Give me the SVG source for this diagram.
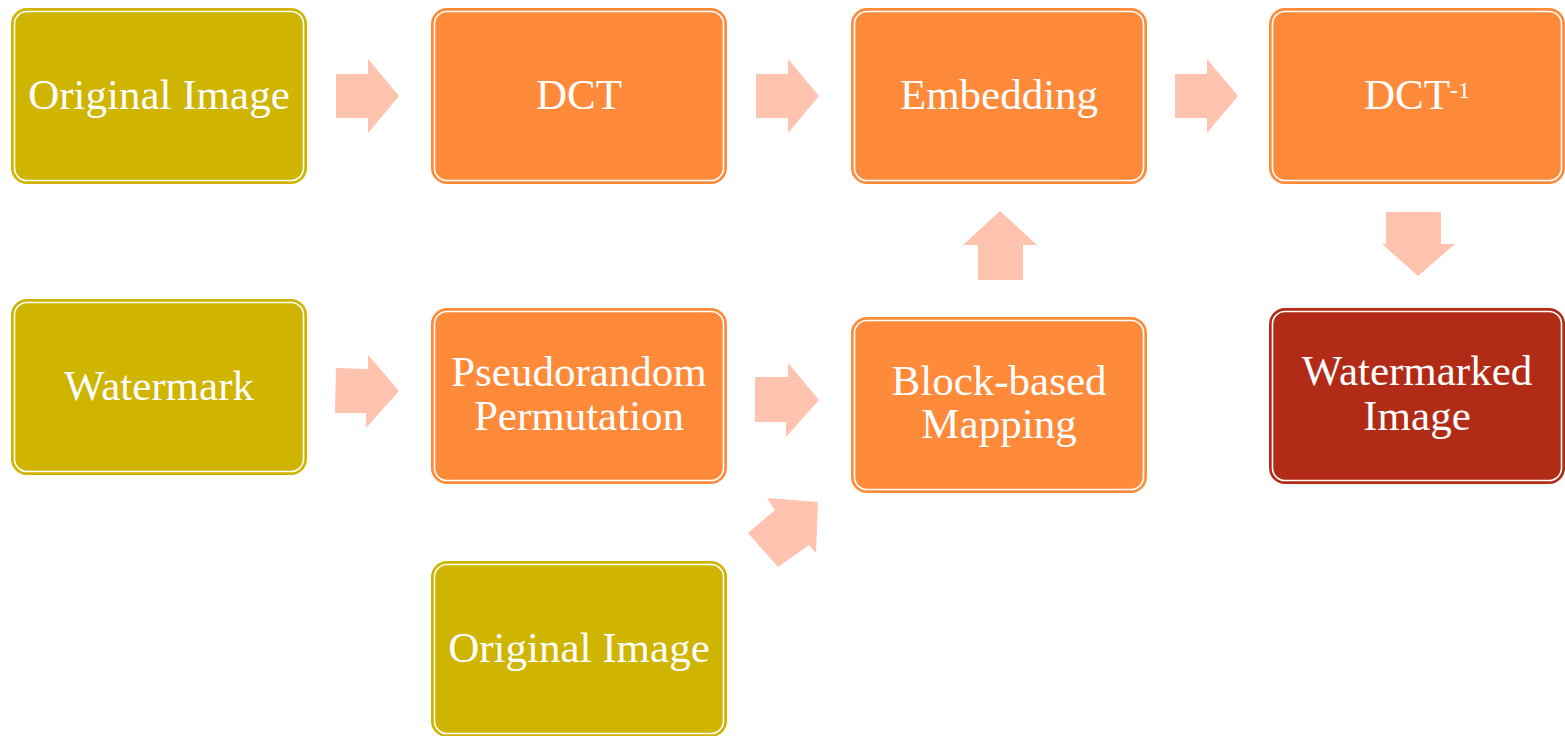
<svg xmlns="http://www.w3.org/2000/svg" width="1565" height="736" viewBox="0 0 1565 736">
  <style>
    .frame { stroke-width: 2; }
    .ring { fill: none; stroke: #ffffff; stroke-width: 1.6; }
    .olive { fill: #cfb400; stroke: #cfb400; }
    .orange { fill: #fe8a3a; stroke: #fe8a3a; }
    .red { fill: #b22b17; stroke: #b22b17; }
    text { font-family: "Liberation Serif", "DejaVu Serif", serif; font-size: 43px; fill: #ffffff; stroke: none; text-anchor: middle; }
    .arrow { fill: #ffc3af; }
  </style>
  <defs>
    <!-- rounded node frame: coloured body with a thin white inner ring -->
    <g id="box">
      <rect class="frame" x="1" y="1" width="294" height="174" rx="15"/>
      <rect class="ring" x="3.5" y="3.5" width="289" height="169" rx="12.5"/>
    </g>
  </defs>

  <!-- connectors: block arrows -->
  <g id="connectors">
    <polygon class="arrow" points="336,74 368,74 368,59 399,96 368,133 368,118 336,118"/>
    <polygon class="arrow" points="756,74 788,74 788,59 819,96 788,133 788,118 756,118"/>
    <polygon class="arrow" points="1175,74 1207,74 1207,59 1238,96 1207,133 1207,118 1175,118"/>
    <polygon class="arrow" points="336,368 368,369 368,355 399,391 366,428 366,413 335,413"/>
    <polygon class="arrow" points="755,377 788,377 788,363 819,400 786,437 786,422 755,422"/>
    <polygon class="arrow" points="767,498 818,502 816,553 809,545 778,567 748,533 775,510"/>
    <polygon class="arrow" points="1000,211 1037,245 1023,245 1023,280 978,280 978,245 963,245"/>
    <polygon class="arrow" points="1386,212 1441,212 1441,244 1455,244 1418,276 1382,244 1386,244"/>
  </g>

  <g id="original-image-top" class="olive" transform="translate(11,8)">
    <use href="#box"/>
    <text x="148" y="101">Original Image</text>
  </g>
  <g id="dct" class="orange" transform="translate(431,8)">
    <use href="#box"/>
    <text x="148" y="101">DCT</text>
  </g>
  <g id="embedding" class="orange" transform="translate(851,8)">
    <use href="#box"/>
    <text x="148" y="101">Embedding</text>
  </g>
  <g id="idct" class="orange" transform="translate(1269,8)">
    <use href="#box"/>
    <text x="148" y="101">DCT<tspan font-size="24" dy="-11">-1</tspan></text>
  </g>
  <g id="watermark" class="olive" transform="translate(11,299)">
    <use href="#box"/>
    <text x="148" y="101">Watermark</text>
  </g>
  <g id="permutation" class="orange" transform="translate(431,308)">
    <use href="#box"/>
    <text x="148" y="78">Pseudorandom</text>
    <text x="148" y="122">Permutation</text>
  </g>
  <g id="mapping" class="orange" transform="translate(851,317)">
    <use href="#box"/>
    <text x="148" y="78">Block-based</text>
    <text x="148" y="121">Mapping</text>
  </g>
  <g id="watermarked-image" class="red" transform="translate(1269,308)">
    <use href="#box"/>
    <text x="148" y="77">Watermarked</text>
    <text x="148" y="122">Image</text>
  </g>
  <g id="original-image-bottom" class="olive" transform="translate(431,561)">
    <use href="#box"/>
    <text x="148" y="101">Original Image</text>
  </g>
</svg>
